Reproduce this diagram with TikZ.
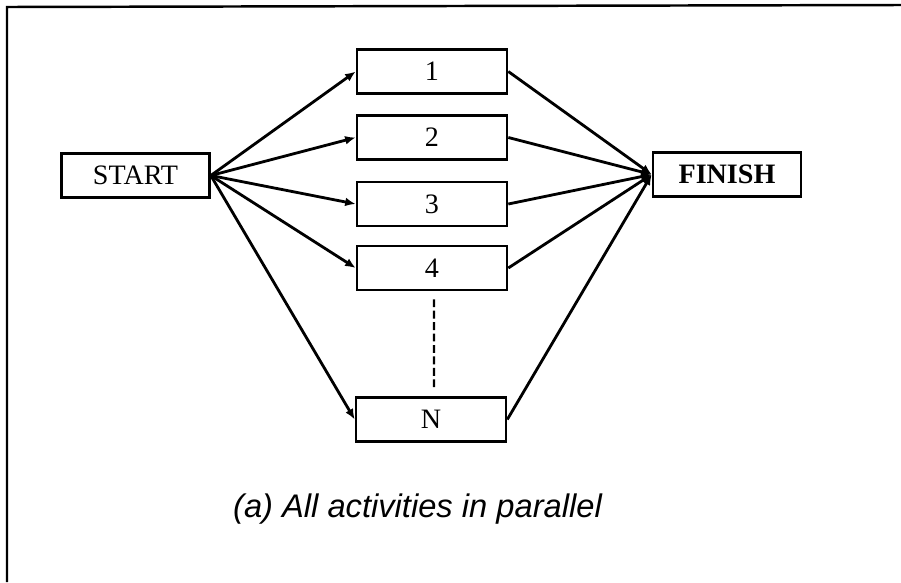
\documentclass[tikz,border=0pt]{standalone}
\usepackage{fontspec}
\setmainfont{Liberation Serif}
\newfontfamily\captionfont{Liberation Sans}
\usetikzlibrary{arrows.meta, positioning}
\tikzset{
  actbox/.style={draw, line width=1.5pt, minimum height=0.88cm, minimum width=3cm, inner sep=0pt, font=\fontsize{16}{19}\selectfont},
  endbox/.style={actbox, minimum width=2.96cm},
  arrow/.style={-{Latex[length=6pt, width=5pt]}, line width=1.6pt},
  dashline/.style={line width=1.4pt, dash pattern=on 4.5pt off 2pt, shorten <=0.16cm, shorten >=0.14cm},
  frameline/.style={line width=1.4pt},
  captiontext/.style={font=\captionfont\itshape\fontsize{18.6}{22}\selectfont, anchor=base},
}

\begin{document}
\begin{tikzpicture}[x=0.02cm, y=-0.02cm]

  \useasboundingbox (0,0) rectangle (901,582);

  % --- Frame ---
  \draw[frameline] (7,582) -- (7,7) -- (901,5);

  % --- Start and finish ---
  \node[endbox] (start) at (135.5,175.5) {START};
  \node[endbox] (finish) at (727,174.5) {\bfseries FINISH};

  % --- Activities ---
  \node[actbox] (act1) at (432,71.5) {1};
  \node[actbox] (act2) at (432,137.5) {2};
  \node[actbox] (act3) at (432,204) {3};
  \node[actbox] (act4) at (432,268) {4};
  \node[actbox] (actN) at (431,419.5) {N};

  % --- Arrows ---
  \draw[arrow] (start.east) -- (act1.west);
  \draw[arrow] (start.east) -- (act2.west);
  \draw[arrow] (start.east) -- (act3.west);
  \draw[arrow] (start.east) -- (act4.west);
  \draw[arrow] (start.east) -- (actN.west);
  \draw[arrow] (act1.east) -- (finish.west);
  \draw[arrow] (act2.east) -- (finish.west);
  \draw[arrow] (act3.east) -- (finish.west);
  \draw[arrow] (act4.east) -- (finish.west);
  \draw[arrow] (actN.east) -- (finish.west);
  \draw[dashline] ([xshift=0.04cm]act4.south) -- ([xshift=0.06cm]actN.north);

  % --- Caption ---
  \node[captiontext] (caption) at (417.5,517) {(a) All activities in parallel};

\end{tikzpicture}
\end{document}
